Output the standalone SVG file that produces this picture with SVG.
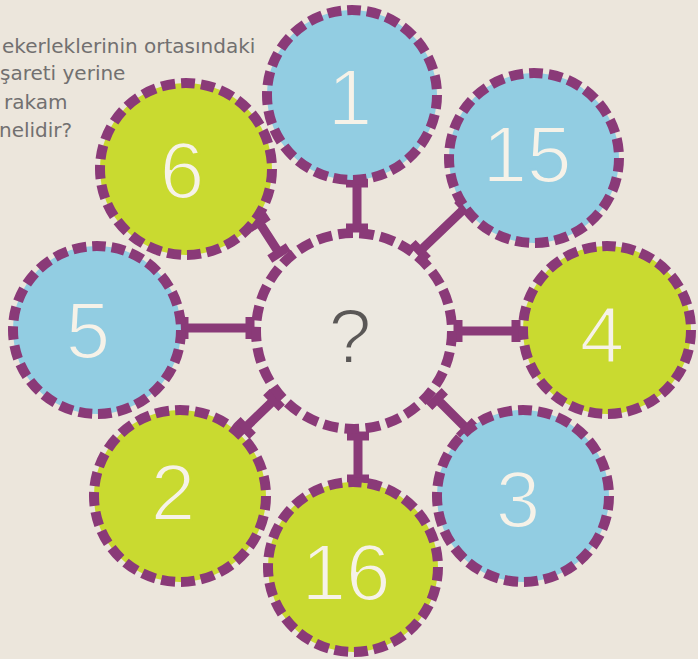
<svg xmlns="http://www.w3.org/2000/svg" width="698" height="659" viewBox="0 0 698 659">
  <style>
    .ring { stroke: #8a3a78; stroke-width: 10; stroke-dasharray: 14 6; }
    .blue { fill: #92cde2; }
    .lime { fill: #c9da30; }
    .mid { fill: #ece8e0; }
    .num { font-family: "Liberation Sans", Arial, sans-serif; font-size: 80px; text-anchor: middle; fill: #f6f2e8; stroke-width: 2; }
    .blue-t { stroke: #92cde2; }
    .lime-t { stroke: #c9da30; }
    .q { font-family: "Liberation Sans", Arial, sans-serif; font-size: 78px; text-anchor: middle; fill: #5a5756; stroke: #ece8e0; stroke-width: 2.2; }
    .intro { font-family: "DejaVu Sans", "Liberation Sans", sans-serif; font-size: 20px; fill: #727070; }
    .conn { stroke: #8a3a78; stroke-width: 9; fill: none; stroke-linecap: butt; }
  </style>
  <rect width="698" height="659" fill="#ece6dc"/>

  <g id="intro-text">
    <text class="intro" x="2" y="53">ekerleklerinin ortasındaki</text>
    <text class="intro" x="0" y="80">şareti yerine</text>
    <text class="intro" x="4" y="109">rakam</text>
    <text class="intro" x="-1" y="137">nelidir?</text>
  </g>

  <g id="connectors">
    <path class="conn" d="M346 228 H368 M357 228 V183 M346 183 H368"/>
    <path class="conn" d="M412.4 243 L427.6 259 M420 251 L465 208 M457.4 200 L472.6 216"/>
    <path class="conn" d="M458 320 V342 M458 331 H516 M516 320 V342"/>
    <path class="conn" d="M429.2 406.8 L444.8 391.2 M437 399 L467 429 M459.2 436.8 L474.8 421.2"/>
    <path class="conn" d="M347 436 H369 M358 436 V479 M347 479 H369"/>
    <path class="conn" d="M266.4 392.1 L281.6 407.9 M274 400 L245 428 M237.4 420.1 L252.6 435.9"/>
    <path class="conn" d="M250 317 V339 M250 328 H184 M184 317 V339"/>
    <path class="conn" d="M269.8 259 L288.2 247 M279 253 L259 222 M249.8 228 L268.2 216"/>
  </g>

  <g id="center">
    <circle class="ring mid" cx="354" cy="331" r="98" pathLength="580"/>
    <text class="q" x="350" y="363">?</text>
  </g>

  <g id="node-1">
    <circle class="ring blue" cx="352" cy="95" r="85" pathLength="540"/>
    <text class="num blue-t" x="350" y="125">1</text>
  </g>
  <g id="node-15">
    <circle class="ring blue" cx="534" cy="158" r="85" pathLength="540"/>
    <text class="num blue-t" x="527" y="182">15</text>
  </g>
  <g id="node-4">
    <circle class="ring lime" cx="607" cy="330" r="84" pathLength="540"/>
    <text class="num lime-t" x="602" y="362">4</text>
  </g>
  <g id="node-3">
    <circle class="ring blue" cx="523" cy="496" r="86" pathLength="540"/>
    <text class="num blue-t" x="518" y="527">3</text>
  </g>
  <g id="node-16">
    <circle class="ring lime" cx="353" cy="567" r="85" pathLength="540"/>
    <text class="num lime-t" x="346" y="600">16</text>
  </g>
  <g id="node-2">
    <circle class="ring lime" cx="180" cy="496" r="86" pathLength="540"/>
    <text class="num lime-t" x="173" y="520">2</text>
  </g>
  <g id="node-5">
    <circle class="ring blue" cx="97" cy="330" r="84" pathLength="540"/>
    <text class="num blue-t" x="88" y="358">5</text>
  </g>
  <g id="node-6">
    <circle class="ring lime" cx="186" cy="169" r="86" pathLength="540"/>
    <text class="num lime-t" x="182" y="198">6</text>
  </g>
</svg>
